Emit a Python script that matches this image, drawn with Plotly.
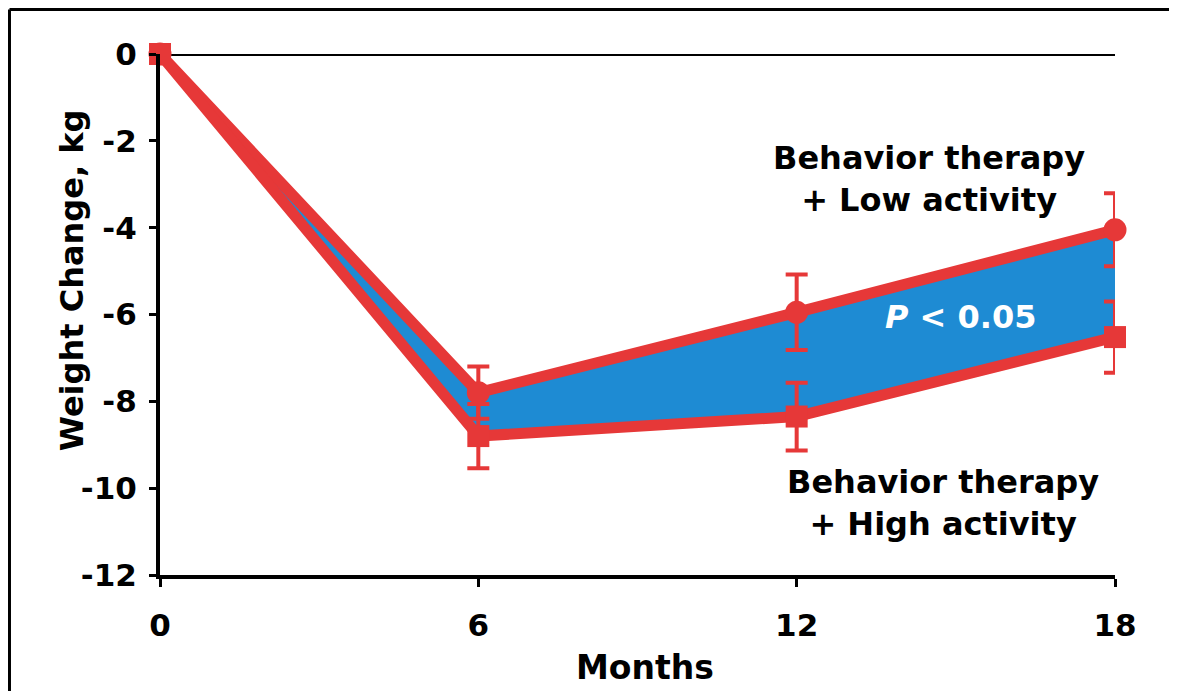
import plotly.graph_objects as go

months = [0, 6, 12, 18]
low_activity = [0, -7.8, -5.95, -4.05]
low_err = [0, 0.6, 0.87, 0.84]
high_activity = [0, -8.8, -8.35, -6.52]
high_err = [0, 0.74, 0.78, 0.82]
y_ticks = [-12, -10, -8, -6, -4, -2, 0]
y_tick_labels = ["-12", "-10", "-8", "-6", "-4", "-2", "0"]
x_ticks = [0, 6, 12, 18]
x_tick_labels = ["0", "6", "12", "18"]

RED = "#e63838"
BLUE = "#1e8bd3"
FONT = "DejaVu Sans"

fig = go.Figure()
# shaded band between the two groups
fig.add_trace(go.Scatter(x=months, y=high_activity, mode="lines",
                         line=dict(width=0, color=BLUE), showlegend=False,
                         hoverinfo="skip", cliponaxis=False))
fig.add_trace(go.Scatter(x=months, y=low_activity, mode="lines",
                         line=dict(width=0, color=BLUE), fill="tonexty",
                         fillcolor=BLUE, showlegend=False, hoverinfo="skip",
                         cliponaxis=False))
# low activity (circles)
fig.add_trace(go.Scatter(x=months, y=low_activity, mode="lines+markers",
                         line=dict(color=RED, width=11),
                         marker=dict(symbol="circle", size=23, color=RED),
                         error_y=dict(type="data", array=low_err, color=RED,
                                      thickness=4, width=11),
                         showlegend=False, cliponaxis=False))
# high activity (squares)
fig.add_trace(go.Scatter(x=months, y=high_activity, mode="lines+markers",
                         line=dict(color=RED, width=11),
                         marker=dict(symbol="square", size=22, color=RED),
                         error_y=dict(type="data", array=high_err, color=RED,
                                      thickness=4, width=11),
                         showlegend=False, cliponaxis=False))

# zero reference line
fig.add_shape(type="line", xref="x", yref="y", x0=0, x1=18.08, y0=0, y1=0,
              line=dict(color="black", width=4), layer="below")
# outer frame: only the left and top edges are visible in the picture
fig.add_shape(type="line", xref="paper", yref="paper",
              x0=-0.1576, x1=-0.1576, y0=-0.3, y1=1.0854,
              line=dict(color="black", width=3))
fig.add_shape(type="line", xref="paper", yref="paper",
              x0=-0.1576, x1=1.2, y0=1.0854, y1=1.0854,
              line=dict(color="black", width=3))

fig.add_annotation(x=14.5, y=-2.88, xref="x", yref="y",
                   xanchor="center", yanchor="middle",
                   text="Behavior therapy<br>+ Low activity", showarrow=False,
                   font=dict(family=FONT, size=32, color="black", weight="bold"))
fig.add_annotation(x=14.75, y=-10.35, xref="x", yref="y",
                   xanchor="center", yanchor="middle",
                   text="Behavior therapy<br>+ High activity", showarrow=False,
                   font=dict(family=FONT, size=32, color="black", weight="bold"))
fig.add_annotation(x=15.1, y=-6.05, xref="x", yref="y",
                   xanchor="center", yanchor="middle",
                   text="<i>P</i> &lt; 0.05", showarrow=False,
                   font=dict(family=FONT, size=32, color="white", weight="bold"))
fig.add_annotation(x=-0.092, y=0.566, xref="paper", yref="paper",
                   xanchor="center", yanchor="middle",
                   text="Weight Change, kg", textangle=-90, showarrow=False,
                   font=dict(family=FONT, size=32, color="black", weight="bold"))
fig.add_annotation(x=0.508, y=-0.178, xref="paper", yref="paper",
                   xanchor="center", yanchor="middle",
                   text="Months", showarrow=False,
                   font=dict(family=FONT, size=33, color="black", weight="bold"))

fig.update_xaxes(range=[0, 18], tickvals=x_ticks, ticktext=x_tick_labels,
                 showline=True, linecolor="black", linewidth=4,
                 ticks="outside", ticklen=8, tickwidth=3, tickcolor="black",
                 showgrid=False, zeroline=False, ticklabelstandoff=12,
                 tickfont=dict(family=FONT, size=31, color="black", weight="bold"))
fig.update_yaxes(range=[-12, 0], tickvals=y_ticks, ticktext=y_tick_labels,
                 showline=True, linecolor="black", linewidth=4,
                 ticks="outside", ticklen=7, tickwidth=3, tickcolor="black",
                 showgrid=False, zeroline=False, ticklabelstandoff=6,
                 tickfont=dict(family=FONT, size=31, color="black", weight="bold"))

fig.update_layout(width=1169, height=683, autosize=False,
                  margin=dict(l=152, r=62, t=46, b=116),
                  plot_bgcolor="white", paper_bgcolor="white")

fig.write_html("out.html")
